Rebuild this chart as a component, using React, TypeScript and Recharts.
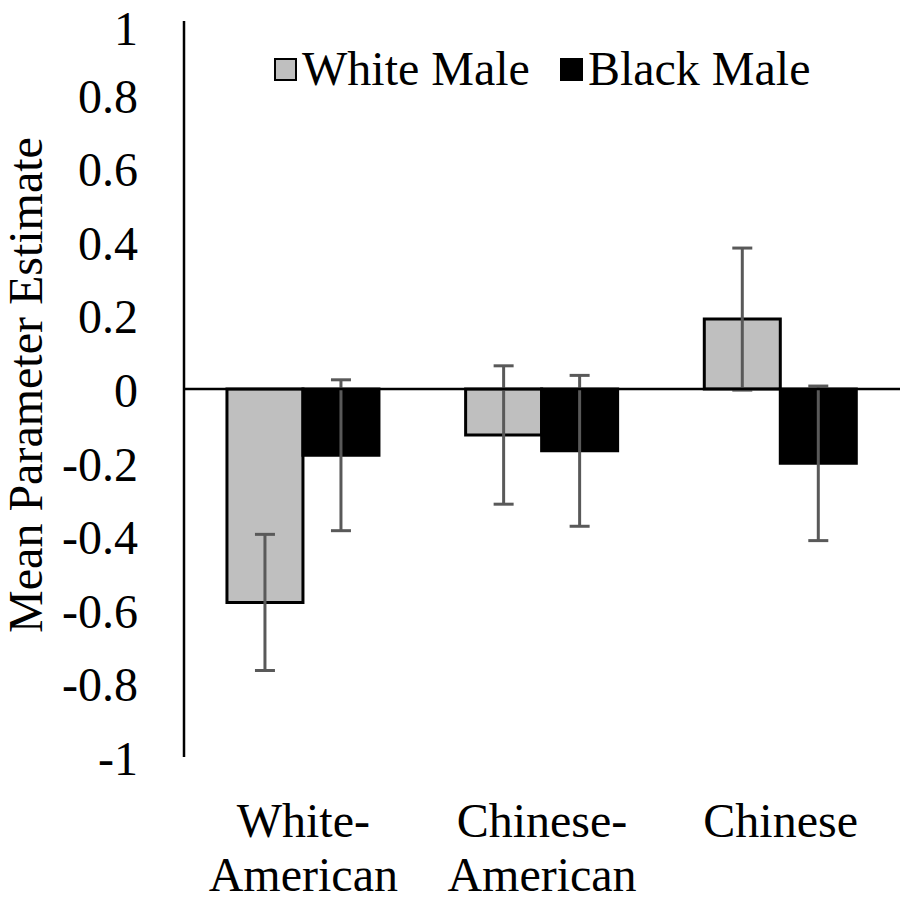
import React from "react";
import {
  BarChart,
  Bar,
  XAxis,
  YAxis,
  ErrorBar,
  ReferenceLine,
  Legend,
} from "recharts";

const FONT = "Liberation Serif, Times New Roman, serif";

// Groups along the x axis, and how each label wraps.
const GROUPS = ["White-American", "Chinese-American", "Chinese"];
const GROUP_LINES = [["White-", "American"], ["Chinese-", "American"], ["Chinese"]];

const WHITE_MALE = [-0.58, -0.125, 0.19];
const WHITE_MALE_ERR = [0.185, 0.188, 0.193];
const BLACK_MALE = [-0.18, -0.168, -0.202];
const BLACK_MALE_ERR = [0.205, 0.205, 0.21];

const Y_TICKS = [1, 0.8, 0.6, 0.4, 0.2, 0, -0.2, -0.4, -0.6, -0.8, -1];

const SERIES = [
  { key: "white", name: "White Male", fill: "#bfbfbf" },
  { key: "black", name: "Black Male", fill: "#000000" },
];

const data = GROUPS.map((g, i) => ({
  group: g,
  white: WHITE_MALE[i],
  whiteErr: WHITE_MALE_ERR[i],
  black: BLACK_MALE[i],
  blackErr: BLACK_MALE_ERR[i],
}));

function GroupTick({ x, y, payload }: any) {
  const idx = GROUPS.indexOf(payload.value);
  const lines = GROUP_LINES[idx] ?? [payload.value];
  return (
    <text x={x} y={y} textAnchor="middle" fontFamily={FONT} fontSize={48} fill="#000">
      {lines.map((line, i) => (
        <tspan key={i} x={x} dy={i === 0 ? 80 : 54}>
          {line}
        </tspan>
      ))}
    </text>
  );
}

function ValueTick({ x, y, payload }: any) {
  // keep the top label's glyph box inside the page
  const dy = Math.max(18, 45 - y);
  return (
    <text x={x} y={y} dy={dy} textAnchor="end" fontFamily={FONT} fontSize={48} fill="#000">
      {String(payload.value)}
    </text>
  );
}

function LegendBox() {
  return (
    <div style={{ display: "flex", alignItems: "center", fontFamily: FONT, fontSize: 48, lineHeight: "48px", whiteSpace: "nowrap" }}>
      {SERIES.map((s, i) => (
        <div key={s.key} style={{ display: "flex", alignItems: "center", marginLeft: i === 0 ? 0 : 30 }}>
          <span
            style={{
              display: "inline-block",
              width: 19,
              height: 19,
              background: s.fill,
              border: "2.5px solid #000",
              marginRight: 5,
            }}
          />
          <span>{s.name}</span>
        </div>
      ))}
    </div>
  );
}

export default function App() {
  return (
    <div style={{ position: "absolute", left: 0, top: 0, background: "#fff" }}>
      <BarChart
        width={906}
        height={900}
        data={data}
        margin={{ top: 21, right: 6, bottom: 0, left: 0 }}
        barCategoryGap="18%"
        barGap={0}
      >
        <XAxis
          dataKey="group"
          axisLine={false}
          tickLine={false}
          tickSize={0}
          tickMargin={0}
          height={143}
          interval={0}
          tick={<GroupTick />}
        />
        <YAxis
          type="number"
          domain={[-1, 1]}
          ticks={Y_TICKS}
          interval={0}
          width={184}
          tickLine={false}
          tickSize={0}
          tickMargin={46}
          axisLine={{ stroke: "#000", strokeWidth: 2.5 }}
          tick={<ValueTick />}
          label={{
            content: ({ viewBox }: any) => (
              <text
                transform={`translate(42, ${viewBox.y + viewBox.height / 2 - 4}) rotate(-90)`}
                textAnchor="middle"
                fontFamily={FONT}
                fontSize={48}
                fill="#000"
              >
                Mean Parameter Estimate
              </text>
            ),
          }}
        />
        <Legend
          layout="vertical"
          align="center"
          verticalAlign="middle"
          wrapperStyle={{ top: 45, left: 274, width: "auto" }}
          content={() => <LegendBox />}
        />
        {SERIES.map((s) => (
          <Bar
            key={s.key}
            dataKey={s.key}
            name={s.name}
            fill={s.fill}
            stroke="#000"
            strokeWidth={3}
            isAnimationActive={false}
          >
            <ErrorBar
              dataKey={`${s.key}Err`}
              width={10}
              stroke="#595959"
              strokeWidth={3}
            />
          </Bar>
        ))}
        <ReferenceLine y={0} stroke="#000" strokeWidth={2.5} />
      </BarChart>
    </div>
  );
}
